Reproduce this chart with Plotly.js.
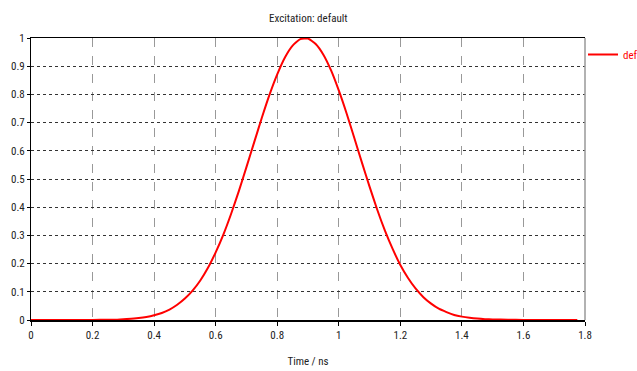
<!DOCTYPE html>
<html>
<head>
<meta charset="utf-8">
<script src="https://cdn.plot.ly/plotly-3.0.1.min.js"></script>
<style>
html,body{margin:0;padding:0;background:#fff;}
#chart{width:637px;height:371px;}
</style>
</head>
<body>
<div id="chart"></div>
<script>
const seriesName = "default";
const timeNs = [0, 0.1, 0.2, 0.25, 0.275, 0.300, 0.325, 0.350, 0.375, 0.400, 0.425, 0.450, 0.475, 0.500, 0.525, 0.550, 0.575, 0.600, 0.625, 0.650, 0.675, 0.700, 0.725, 0.750, 0.775, 0.800, 0.825, 0.850, 0.875, 0.900, 0.925, 0.950, 0.975, 1.000, 1.025, 1.050, 1.075, 1.100, 1.125, 1.150, 1.175, 1.200, 1.225, 1.250, 1.275, 1.300, 1.325, 1.350, 1.375, 1.400, 1.425, 1.450, 1.475, 1.500, 1.550, 1.600, 1.700, 1.775];
const excitation = [0, 0, 0, 0.001, 0.001, 0.003, 0.004, 0.007, 0.011, 0.017, 0.025, 0.037, 0.054, 0.076, 0.104, 0.140, 0.185, 0.240, 0.303, 0.376, 0.456, 0.542, 0.630, 0.717, 0.799, 0.871, 0.931, 0.973, 0.996, 0.998, 0.979, 0.941, 0.885, 0.814, 0.734, 0.647, 0.559, 0.473, 0.391, 0.317, 0.252, 0.195, 0.149, 0.111, 0.081, 0.058, 0.040, 0.028, 0.018, 0.012, 0.008, 0.005, 0.003, 0.002, 0.001, 0, 0, 0];
const xTicks = [0, 0.2, 0.4, 0.6, 0.8, 1, 1.2, 1.4, 1.6, 1.8];
const yTicks = [0, 0.1, 0.2, 0.3, 0.4, 0.5, 0.6, 0.7, 0.8, 0.9, 1];

const fontFam = '"Roboto Condensed", Roboto, sans-serif';
const txt = '#222222';

Plotly.newPlot('chart', [{
  x: timeNs, y: excitation, name: seriesName, type: 'scatter', mode: 'lines',
  line: {color: '#ff0000', width: 2, shape: 'spline', smoothing: 0.5}
}], {
  width: 637, height: 371,
  margin: {l: 31, r: 52, t: 38, b: 51, autoexpand: false},
  paper_bgcolor: '#ffffff', plot_bgcolor: '#ffffff',
  font: {family: fontFam, size: 11, color: txt},
  title: {text: 'Excitation: default', x: 0.484, xanchor: 'center', y: 0.952, yanchor: 'middle', font: {family: fontFam, size: 11, color: txt}},
  xaxis: {
    range: [0, 1.8], tickvals: xTicks, ticktext: xTicks.map(String),
    showgrid: true, gridcolor: '#999999', griddash: 'dash', gridwidth: 1,
    zeroline: false, showline: true, linecolor: '#000000', linewidth: 1.5,
    mirror: true, ticks: 'outside', ticklen: 4, tickcolor: '#000000',
    tickfont: {family: fontFam, size: 11, color: txt},
    title: {text: 'Time / ns', font: {family: fontFam, size: 11, color: txt}, standoff: 16}
  },
  yaxis: {
    range: [0, 1], tickvals: yTicks, ticktext: yTicks.map(String),
    showgrid: true, gridcolor: '#333333', griddash: 'dot', gridwidth: 1,
    zeroline: false, showline: true, linecolor: '#000000', linewidth: 1,
    ticks: 'outside', ticklen: 3, tickcolor: '#000000',
    tickfont: {family: fontFam, size: 11, color: txt}
  },
  shapes: [{type: 'line', xref: 'paper', yref: 'paper', x0: 1, x1: 1, y0: 0, y1: 1, line: {color: '#999999', width: 1.5}}],
  showlegend: true,
  legend: {xref: 'container', yref: 'container', x: 583/637, xanchor: 'left', y: 1 - 40/371, yanchor: 'top',
    bgcolor: 'rgba(0,0,0,0)', itemwidth: 30,
    font: {family: fontFam, size: 11, color: '#ff0000'}}
}, {displayModeBar: false, staticPlot: true});
</script>
</body>
</html>
